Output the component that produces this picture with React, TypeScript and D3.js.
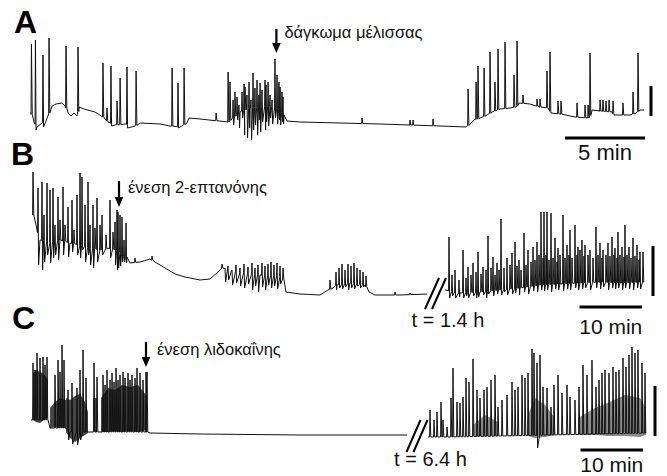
import React from 'react';
import * as d3 from 'd3';

// t in minutes, v in relative signal units
type Pt = [number, number];
type Spike = [number, number, number?];
type Band = [number, number, number][];

// ---- A: bee sting ----
const aBaseline: Pt[] = [
  [0.06, 27], [0.25, 18], [0.44, 13], [0.75, 17], [1.0, 19], [1.19, 27], [1.38, 34], [1.63, 36], [2.0, 37],
  [2.19, 34], [2.38, 27], [2.56, 24], [2.75, 27], [2.94, 24], [3.06, 33], [3.38, 31], [4.06, 28], [4.56, 23],
  [4.88, 18], [5.31, 15], [5.94, 16], [6.56, 14], [6.88, 17], [8.13, 16], [8.75, 14], [9.38, 13], [9.81, 17],
  [9.94, 22], [10.63, 21], [12.38, 18], [13.13, 28], [13.75, 32], [15.0, 34], [15.63, 30], [15.88, 25],
  [16.06, 19], [16.88, 18], [19.38, 17], [21.88, 16], [23.75, 15], [25.63, 14], [27.25, 13], [27.5, 16],
  [27.75, 20], [28.13, 22], [28.56, 25], [28.88, 28], [29.38, 31], [30.0, 32], [30.38, 33], [30.56, 37],
  [31.25, 36], [31.88, 33], [32.38, 32], [32.56, 27], [33.13, 26], [34.06, 23], [34.94, 22], [35.13, 30],
  [35.63, 29], [36.38, 28], [36.5, 25], [37.5, 25], [37.88, 27], [38.13, 30], [38.38, 30],
];
const aSpikes: Spike[] = [
  [0.09, 96], [0.34, 100, 10], [0.81, 85, 13], [1.19, 102], [2.25, 94], [3.0, 93], [4.56, 77], [4.81, 32],
  [5.06, 74, 14], [5.44, 39], [5.63, 62], [6.06, 73, 12], [6.63, 69], [8.88, 72], [9.25, 57, 12], [9.63, 72],
  [11.63, 27],
  [12.38, 68], [12.5, 58], [12.69, 40, 15], [12.81, 48], [12.94, 43, 20], [13.06, 35, 12], [13.25, 48, 22],
  [13.38, 56, 5], [13.44, 53], [13.56, 45, 2], [13.69, 58, 12], [13.81, 40, 0], [13.94, 67, 10], [14.06, 52, 15],
  [14.19, 60, 5], [14.31, 45, 20], [14.38, 57, 8], [14.5, 50, 18], [14.69, 60, 10], [14.75, 55, 18],
  [14.88, 58, 14], [15.0, 45, 22], [15.13, 40, 16], [15.31, 81, 22], [15.44, 65, 16], [15.56, 58, 20],
  [15.63, 53, 15], [15.75, 48, 18], [15.81, 43, 16],
  [20.75, 22], [23.75, 20], [23.94, 20], [25.19, 21],
  [27.38, 51], [27.88, 58], [28.0, 74], [28.38, 72], [28.75, 88], [29.06, 58], [29.25, 91], [29.69, 98],
  [30.25, 65], [30.44, 99], [30.81, 45], [31.69, 41], [31.88, 41], [32.31, 69], [32.5, 88], [33.0, 39],
  [33.19, 39], [34.19, 37], [34.69, 35], [34.88, 35], [35.0, 87], [35.63, 40], [35.81, 40], [36.0, 39],
  [36.19, 40], [36.44, 39], [37.06, 37], [37.69, 48], [38.0, 87],
];
const aSegments: Pt[] = [[0, 38.4]];
const aStimulus = { t: 15.4, label: 'δάγκωμα μέλισσας' };
const aTimeBar = 5;
const aAmpBar = 30;

// ---- B: 2-heptanone ----
const bBaseline: Pt[] = [
  [0.48, 95], [0.96, 85], [1.6, 70], [3.2, 68], [4.8, 70], [6.4, 67], [8.0, 65], [9.6, 62], [11.2, 60],
  [12.8, 62], [14.4, 58], [15.52, 53], [16.0, 47], [17.6, 48], [19.2, 51], [20.0, 48], [21.6, 42], [23.2, 36],
  [24.8, 33], [27.2, 30], [28.8, 31], [30.08, 38], [30.72, 42], [33.6, 38], [36.8, 35], [40.0, 34], [40.64, 30],
  [40.96, 18], [43.2, 16], [46.4, 15], [47.68, 20], [48.48, 22], [49.12, 25], [51.2, 27], [53.6, 25],
  [54.24, 18], [55.2, 15], [59.2, 15], [63.52, 16],
  [84.0, 20], [86.4, 17], [89.6, 18], [92.8, 20], [96.0, 22], [99.2, 25], [102.4, 26], [105.6, 27],
  [108.8, 28], [112.0, 27], [115.7, 28],
];
const bSpikes: Spike[] = [
  [0.48, 138], [1.28, 122, 45], [1.92, 128, 40], [2.24, 95, 48], [2.72, 127, 55], [3.2, 120, 47], [3.68, 122, 52],
  [4.0, 85, 55], [4.48, 113, 50], [4.8, 90], [5.28, 123, 55], [5.6, 85], [6.08, 103, 53], [6.72, 110, 58],
  [7.04, 80], [7.52, 115, 55], [8.0, 137, 52], [8.32, 133, 60], [8.8, 105, 48], [9.28, 128, 55], [9.6, 85, 45],
  [10.08, 105, 42], [10.4, 82], [10.72, 112, 48], [11.2, 85], [11.52, 95, 55], [12.16, 75], [12.8, 110, 52],
  [13.28, 78], [13.6, 88, 45], [13.92, 100, 40], [14.08, 98, 42], [14.4, 95, 44], [14.72, 93, 48],
  [15.04, 70, 48], [15.36, 87, 47],
  [16.8, 52], [19.52, 54],
  [30.72, 46], [31.2, 42, 28], [31.68, 44, 30], [32.32, 40, 25], [32.96, 45, 27], [33.6, 42, 24], [34.24, 46, 22],
  [34.88, 43, 26], [35.52, 47, 20], [36.0, 42, 24], [36.48, 45, 18], [37.12, 47, 23], [37.6, 44, 20],
  [38.08, 46, 25], [38.56, 48, 22], [39.04, 45, 24], [39.52, 47, 21], [40.0, 44, 26], [40.48, 42],
  [48.0, 30], [48.96, 38, 20], [49.44, 42, 22], [49.92, 46, 21], [50.4, 40, 23], [50.88, 46, 20], [51.36, 44, 22],
  [51.84, 47, 21], [52.32, 42, 24], [52.8, 40, 22], [53.28, 38, 23], [53.76, 34],
  [58.4, 18], [60.8, 17],
  [84.64, 73, 12], [85.12, 35, 14], [85.6, 40, 12], [86.24, 30, 13], [86.88, 60, 12], [87.36, 32, 14],
  [87.68, 43, 12], [88.16, 35], [88.48, 47, 14], [88.96, 38, 12], [89.28, 58, 13], [89.76, 36], [90.08, 43, 15],
  [90.56, 40, 12], [90.88, 74, 16], [91.36, 42], [91.68, 53, 14], [92.0, 35], [92.32, 47, 16], [92.64, 40],
  [92.96, 91, 15], [93.44, 42, 18], [93.92, 52, 15], [94.4, 45], [94.72, 57, 16], [95.2, 68, 17], [95.52, 44],
  [95.84, 50, 15], [96.16, 40], [96.64, 77, 18], [96.96, 45], [97.28, 60, 16], [97.76, 48], [98.08, 63, 19],
  [98.4, 50], [98.72, 68, 18], [99.04, 55], [99.36, 98, 20], [99.68, 52], [99.84, 98, 19], [100.16, 55],
  [100.32, 98, 20], [100.64, 50], [100.96, 97, 18], [101.28, 52], [101.6, 72, 21], [101.92, 48], [102.08, 62, 20],
  [102.4, 55], [102.88, 95, 19], [103.2, 52], [103.52, 65, 21], [103.84, 55], [104.0, 80, 20], [104.32, 52],
  [104.8, 85, 22], [105.12, 55], [105.28, 63, 20], [105.6, 60], [105.92, 70, 21], [106.24, 54], [106.4, 65, 22],
  [106.88, 55], [107.2, 60, 20], [107.68, 52], [108.16, 83, 22], [108.48, 55], [108.8, 67, 21], [109.12, 52],
  [109.28, 60, 23], [109.76, 55], [110.08, 67, 20], [110.4, 54], [110.72, 73, 22], [111.04, 55], [111.2, 62, 21],
  [111.52, 52], [111.68, 78, 22], [112.0, 55], [112.32, 63, 20], [112.64, 53], [112.8, 85, 22], [113.12, 55],
  [113.44, 63, 21], [113.76, 52], [114.08, 72, 20], [114.4, 54], [114.72, 65, 22], [115.04, 50], [115.2, 58, 21],
  [115.68, 58],
];
const bSegments: Pt[] = [[0, 63.52], [84, 115.7]];
const bStimulus = { t: 14.24, label: 'ένεση 2-επτανόνης' };
const bBreakLabel = 't = 1.4 h';
const bTimeBar = 10;
const bAmpBar = 50;

// ---- C: lidocaine ----
const cBaseline: Pt[] = [
  [0.16, 40], [2.88, 40], [3.2, 32], [5.76, 32], [6.4, 28], [9.28, 28], [11.2, 28], [18.72, 28], [19.2, 27],
  [27.2, 26], [43.2, 25], [60.32, 25],
  [384.0, 23], [387.52, 23], [395.52, 24], [403.52, 25], [411.52, 26], [418.88, 27],
];
const cBands: Band[] = [
  [[0.48, 86, 40], [0.96, 90, 38], [1.6, 88, 37], [2.24, 86, 40], [2.88, 80, 42]],
  [[3.2, 52, 32], [4.0, 58, 33], [4.8, 62, 33], [5.76, 60, 32]],
  [[5.76, 62, 28], [6.4, 60, 22], [7.2, 64, 18], [8.0, 66, 22], [8.8, 58, 25], [9.28, 48, 27]],
  [[10.08, 62, 28], [10.72, 62, 28]],
  [[11.36, 62, 28], [12.48, 72, 28], [13.6, 70, 29], [14.72, 75, 28], [16.0, 73, 29], [17.28, 75, 28], [18.56, 65, 30]],
  [[391.2, 35, 24], [393.12, 45, 24], [395.2, 38, 24]],
  [[400.0, 45, 24], [401.12, 62, 22], [402.72, 55, 23], [404.32, 42, 25]],
  [[408.0, 42, 25], [410.72, 52, 25], [413.12, 58, 24], [415.52, 65, 24], [417.92, 62, 23], [418.88, 52, 25]],
];
const cSpikes: Spike[] = [
  [0.48, 97], [0.8, 90], [1.12, 107], [1.6, 102], [2.08, 103], [2.4, 95], [2.72, 103], [4.0, 85], [4.48, 100],
  [4.8, 88], [5.12, 115], [5.44, 100], [6.08, 70, 20], [6.72, 77, 16], [7.52, 72, 15], [8.0, 90, 20], [8.48, 110],
  [8.96, 82], [10.24, 97], [10.72, 83], [11.68, 85], [12.0, 75], [12.32, 90], [12.8, 80], [13.12, 87], [13.44, 78],
  [13.76, 92], [14.08, 80], [14.4, 85], [14.88, 88], [15.2, 82], [15.68, 87], [16.0, 80], [16.32, 85],
  [16.8, 82], [17.12, 92], [17.6, 87], [18.08, 80], [18.56, 88], [18.72, 88],
  [384.32, 50], [384.96, 40], [385.44, 48], [386.08, 58], [386.4, 40], [387.04, 33], [387.68, 62], [388.0, 92],
  [388.64, 58], [389.12, 57], [389.6, 63], [390.08, 82], [390.56, 78], [391.2, 101], [391.84, 70], [392.32, 62],
  [392.96, 70], [393.44, 73], [394.08, 80], [394.72, 85], [395.2, 53], [395.84, 60], [396.64, 65], [397.44, 78],
  [397.92, 70], [398.4, 73], [399.04, 85], [399.52, 82], [400.0, 87], [400.64, 111], [400.96, 107],
  [401.44, 97, 12], [401.92, 105], [402.4, 73], [403.04, 72], [403.68, 53], [404.16, 75], [404.8, 85],
  [405.44, 67], [406.24, 75], [406.72, 63], [407.52, 60], [408.16, 73], [408.8, 95], [409.44, 85], [410.24, 100],
  [410.88, 73], [411.36, 80], [411.84, 87], [412.32, 90], [412.96, 87], [413.6, 93], [414.08, 88], [414.56, 90],
  [415.2, 102], [415.68, 93], [416.16, 105], [416.64, 113], [417.12, 107], [417.6, 110], [418.24, 97],
  [418.72, 87],
];
const cSegments: Pt[] = [[0, 60.32], [384, 418.9]];
const cStimulus = { t: 18.56, label: 'ένεση λιδοκαΐνης' };
const cBreakLabel = 't = 6.4 h';
const cTimeBar = 10;
const cAmpBar = 50;

const W = 667;
const H = 476;
const FONT = '"Liberation Sans", Arial, Helvetica, sans-serif';

type Scale = d3.ScaleLinear<number, number>;

function tracePath(base: Pt[], spikes: Spike[], seg: Pt, x: Scale, y: Scale): string {
  const [t0, t1] = seg;
  const knots = base.filter(d => d[0] >= t0 && d[0] <= t1);
  const baseAt = d3.scaleLinear().domain(knots.map(d => d[0])).range(knots.map(d => d[1])).clamp(true);
  const events: { t: number; k?: Pt; s?: Spike }[] = [
    ...knots.map(k => ({ t: k[0], k })),
    ...spikes.filter(s => s[0] >= t0 && s[0] <= t1).map(s => ({ t: s[0], s })),
  ].sort((a, b) => a.t - b.t);
  const pts: [number, number][] = [];
  events.forEach(e => {
    if (e.k) {
      pts.push([x(e.k[0]), y(e.k[1])]);
    } else if (e.s) {
      const [t, peak, trough] = e.s;
      const px = x(t);
      const b = baseAt(t);
      pts.push([px - 0.4, y(b)], [px, y(peak)]);
      if (trough != null) pts.push([px + 0.6, y(trough)]);
      else pts.push([px + 0.8, y(b)]);
    }
  });
  return d3.line()(pts) || '';
}

function Arrow({ x, top, tip }: { x: number; top: number; tip: number }) {
  const head = 10;
  return (
    <g>
      <line x1={x} x2={x} y1={top} y2={tip - head + 1} stroke="#000" strokeWidth={2.2} />
      <path d={`M${x - 4.3},${tip - head} L${x + 4.3},${tip - head} L${x},${tip} Z`} fill="#000" />
    </g>
  );
}

function BreakMark({ x, top, bottom }: { x: number; top: number; bottom: number }) {
  return (
    <g stroke="#000" strokeWidth={2}>
      <line x1={x - 11} y1={bottom} x2={x + 3} y2={top} />
      <line x1={x - 4} y1={bottom} x2={x + 10} y2={top} />
    </g>
  );
}

export default function App() {
  const xA = d3.scaleLinear().domain([0, 38.4]).range([30, 644.4]);
  const yA = d3.scaleLinear().domain([0, 100]).range([140, 40]);
  const xB = d3.scaleLinear().domain([0, 63.52, 84, 115.7]).range([30, 427, 445, 643.1]);
  const yB = d3.scaleLinear().domain([0, 100]).range([310, 210]);
  const xC = d3.scaleLinear().domain([0, 60.32, 384, 418.9]).range([30, 407, 428, 646.1]);
  const yC = d3.scaleLinear().domain([0, 100]).range([460, 360]);

  const band = (x: Scale, y: Scale) =>
    d3.area<[number, number, number]>()
      .x(d => x(d[0]))
      .y0(d => y(d[2]))
      .y1(d => y(d[1]));

  const traceStyle = { fill: 'none', stroke: '#111', strokeWidth: 1, strokeLinejoin: 'round' as const };

  const aBarLen = xA(aTimeBar) - xA(0);
  const bBarLen = xB(84 + bTimeBar) - xB(84);
  const cBarLen = xC(384 + cTimeBar) - xC(384);
  const bGap = (xB(bSegments[0][1]) + xB(bSegments[1][0])) / 2;
  const cGap = (xC(cSegments[0][1]) + xC(cSegments[1][0])) / 2;

  return (
    <svg width={W} height={H} style={{ position: 'absolute', left: 0, top: 0, background: '#fff' }}
      fontFamily={FONT}>
      <rect width={W} height={H} fill="#fff" />

      {/* panel letters */}
      <text x={14} y={33} fontSize={32} fontWeight="bold" fill="#000">A</text>
      <text x={11} y={165} fontSize={32} fontWeight="bold" fill="#000">B</text>
      <text x={12} y={329} fontSize={32} fontWeight="bold" fill="#000">C</text>

      {/* A */}
      {aSegments.map((s, i) => <path key={i} d={tracePath(aBaseline, aSpikes, s, xA, yA)} {...traceStyle} />)}
      <Arrow x={xA(aStimulus.t)} top={29} tip={53} />
      <text x={xA(aStimulus.t) + 8} y={38} fontSize={16.5} fill="#111">{aStimulus.label}</text>
      <line x1={651} x2={651} y1={yA(24)} y2={yA(24 + aAmpBar)} stroke="#000" strokeWidth={3} />
      <line x1={645 - aBarLen} x2={645} y1={138} y2={138} stroke="#000" strokeWidth={3} />
      <text x={645 - aBarLen / 2} y={160} fontSize={22} textAnchor="middle" fill="#111">{`${aTimeBar} min`}</text>

      {/* B */}
      {bSegments.map((s, i) => <path key={i} d={tracePath(bBaseline, bSpikes, s, xB, yB)} {...traceStyle} />)}
      <Arrow x={xB(bStimulus.t)} top={181} tip={207} />
      <text x={xB(bStimulus.t) + 9} y={193} fontSize={16.5} fill="#111">{bStimulus.label}</text>
      <BreakMark x={bGap} top={278} bottom={309} />
      <text x={bGap + 12} y={327} fontSize={20} textAnchor="middle" fill="#111">{bBreakLabel}</text>
      <line x1={653} x2={653} y1={yB(14)} y2={yB(14 + bAmpBar)} stroke="#000" strokeWidth={3} />
      <line x1={642 - bBarLen} x2={642} y1={307} y2={307} stroke="#000" strokeWidth={3} />
      <text x={642 - bBarLen / 2} y={334} fontSize={21} textAnchor="middle" fill="#111">{`${bTimeBar} min`}</text>

      {/* C */}
      {cBands.map((b, i) => (
        <path key={i} d={band(xC, yC)(b) || ''} fill="#161616"
          fillOpacity={b[0][0] > cSegments[0][1] ? 0.5 : 0.8} />
      ))}
      {cSegments.map((s, i) => <path key={i} d={tracePath(cBaseline, cSpikes, s, xC, yC)} {...traceStyle} />)}
      <Arrow x={xC(cStimulus.t)} top={342} tip={367} />
      <text x={xC(cStimulus.t) + 11} y={355} fontSize={16.5} fill="#111">{cStimulus.label}</text>
      <BreakMark x={cGap} top={420} bottom={452} />
      <text x={cGap + 13} y={466} fontSize={20} textAnchor="middle" fill="#111">{cBreakLabel}</text>
      <line x1={655} x2={655} y1={yC(24)} y2={yC(24 + cAmpBar)} stroke="#000" strokeWidth={3} />
      <line x1={643 - cBarLen} x2={643} y1={450} y2={450} stroke="#000" strokeWidth={3} />
      <text x={643 - cBarLen / 2} y={472} fontSize={21} textAnchor="middle" fill="#111">{`${cTimeBar} min`}</text>
    </svg>
  );
}
